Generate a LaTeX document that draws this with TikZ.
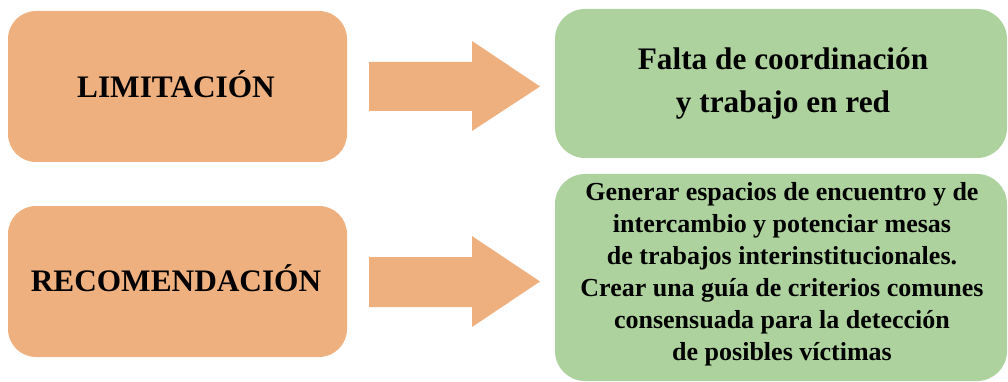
\documentclass[tikz,border=0pt]{standalone}
\usepackage{fontspec}
\setmainfont{Liberation Serif}
\definecolor{boxorange}{RGB}{239,176,127}
\definecolor{boxgreen}{RGB}{174,210,158}
\begin{document}
\begin{tikzpicture}[x=1pt,y=-1pt,
  orangebox/.style={fill=boxorange, draw=none, rounded corners=28pt, inner sep=0pt},
  greenbox/.style={fill=boxgreen, draw=none, rounded corners=30pt, inner sep=0pt},
  bigarrow/.style={fill=boxorange, draw=none},
  bigtxt/.style={font=\bfseries\fontsize{31.3}{43}\selectfont, align=center, inner sep=0pt},
  smalltxt/.style={font=\bfseries\fontsize{26}{32}\selectfont, align=center, inner sep=0pt}]
\useasboundingbox (0,0) rectangle (1008,382);
% boxes
\node[orangebox, minimum width=339pt, minimum height=151pt] (lim) at (177.5,86.5) {};
\node[orangebox, minimum width=339pt, minimum height=151pt] (rec) at (177.5,281.5) {};
\node[greenbox, minimum width=452pt, minimum height=149pt] (falta) at (781,83.5) {};
\node[greenbox, minimum width=452pt, minimum height=207pt] (gen) at (781,277.5) {};
% arrows
\coordinate (a1) at (369,86.5);
\coordinate (a2) at (369,281.5);
\fill[bigarrow] (a1) ++(0,-24.5) -- ++(103,0) -- ++(0,-21) -- (540,86.5) -- (472,131) -- ++(0,-20) -- ++(-103,0) -- cycle;
\fill[bigarrow] (a2) ++(0,-24.5) -- ++(103,0) -- ++(0,-21) -- (540,281.5) -- (472,327) -- ++(0,-20) -- ++(-103,0) -- cycle;
% texts
\node[bigtxt, anchor=base] (limtxt) at (176,97.7) {LIMITACIÓN};
\node[bigtxt, anchor=base] (rectxt) at (176,291.7) {RECOMENDACIÓN};
\node[bigtxt] (faltatxt) at (783,84) {Falta de coordinación\\y trabajo en red};
\node[smalltxt] (gentxt) at (782,274) {Generar espacios de encuentro y de\\intercambio y potenciar mesas\\de trabajos interinstitucionales.\\Crear una guía de criterios comunes\\consensuada para la detección\\de posibles víctimas};
\end{tikzpicture}
\end{document}
